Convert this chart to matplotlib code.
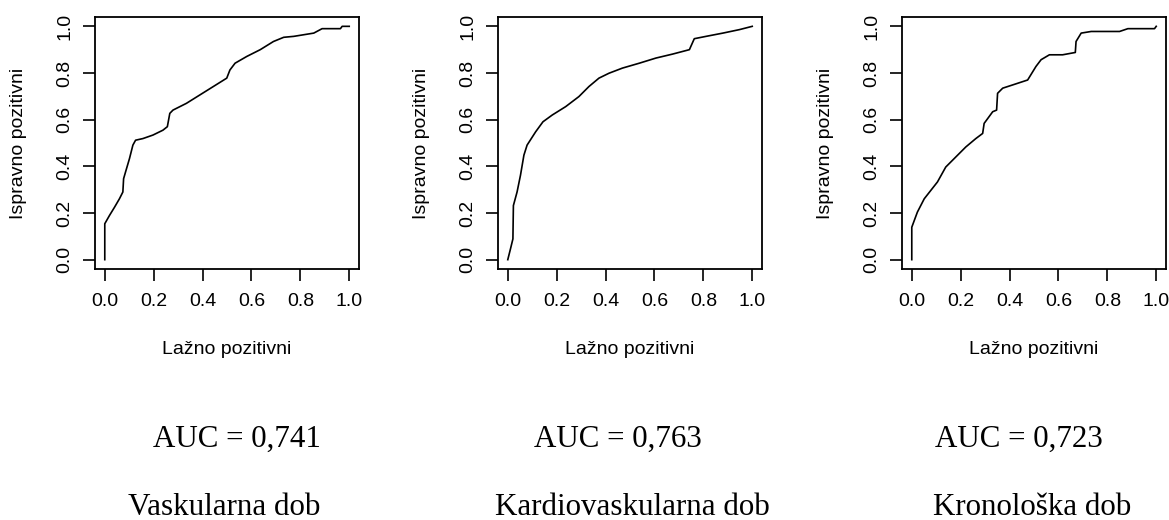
import matplotlib.pyplot as plt

# -----------------------------------
# DATA
# -----------------------------------

vask_fpr = [0.0, 0.0, 0.019, 0.040, 0.060, 0.074, 0.077, 0.085, 0.101, 0.115, 0.126,
            0.156, 0.197, 0.238, 0.256, 0.266, 0.279, 0.334, 0.389, 0.444, 0.499,
            0.512, 0.533, 0.581, 0.636, 0.690, 0.732, 0.773, 0.814, 0.855, 0.889,
            0.964, 0.971, 1.0]
vask_tpr = [0.0, 0.154, 0.189, 0.225, 0.261, 0.290, 0.347, 0.376, 0.433, 0.491, 0.512,
            0.519, 0.534, 0.555, 0.570, 0.627, 0.641, 0.670, 0.706, 0.742, 0.778,
            0.813, 0.842, 0.871, 0.900, 0.935, 0.953, 0.957, 0.964, 0.971, 0.990,
            0.990, 1.0, 1.0]

kardio_fpr = [0.0, 0.011, 0.021, 0.023, 0.038, 0.052, 0.066, 0.079, 0.114, 0.144,
              0.182, 0.237, 0.291, 0.332, 0.373, 0.414, 0.469, 0.538, 0.606, 0.674,
              0.743, 0.763, 0.811, 0.880, 0.948, 1.0]
kardio_tpr = [0.0, 0.046, 0.089, 0.232, 0.290, 0.362, 0.448, 0.491, 0.548, 0.591,
              0.620, 0.656, 0.699, 0.742, 0.778, 0.799, 0.821, 0.842, 0.864, 0.881,
              0.900, 0.947, 0.957, 0.971, 0.986, 1.0]

krono_fpr = [0.0, 0.0, 0.023, 0.051, 0.078, 0.105, 0.139, 0.180, 0.221, 0.262, 0.290,
             0.296, 0.331, 0.347, 0.351, 0.372, 0.413, 0.474, 0.508, 0.529, 0.563,
             0.617, 0.669, 0.672, 0.693, 0.734, 0.850, 0.884, 0.993, 1.0]
krono_tpr = [0.0, 0.139, 0.204, 0.261, 0.297, 0.333, 0.397, 0.440, 0.483, 0.519, 0.541,
             0.584, 0.634, 0.641, 0.713, 0.735, 0.749, 0.770, 0.828, 0.857, 0.878,
             0.878, 0.888, 0.935, 0.971, 0.978, 0.978, 0.990, 0.990, 1.0]

auc_labels = ["AUC = 0,741", "AUC = 0,763", "AUC = 0,723"]
names = ["Vaskularna dob", "Kardiovaskularna dob", "Kronološka dob"]
ticks = [0.0, 0.2, 0.4, 0.6, 0.8, 1.0]

curves = [(vask_fpr, vask_tpr), (kardio_fpr, kardio_tpr), (krono_fpr, krono_tpr)]

# -----------------------------------
# LAYOUT
# -----------------------------------

W, H = 1169, 520
fig = plt.figure(figsize=(W / 100, H / 100), dpi=100)

ax_left = [95, 498, 902]        # px from left
ax_w = 264
ax_top, ax_bottom = 17, 269
auc_x = [237, 618, 1019]
name_x = [224, 632, 1032]

sans = "Liberation Sans"
serif = "Liberation Serif"

for i in range(3):
    ax = fig.add_axes([ax_left[i] / W, 1 - ax_bottom / H,
                       ax_w / W, (ax_bottom - ax_top) / H])
    fpr, tpr = curves[i]
    ax.plot(fpr, tpr, color="black", lw=1.2)

    ax.set_xlim(-0.04, 1.04)
    ax.set_ylim(-0.04, 1.04)
    ax.set_xticks(ticks)
    ax.set_yticks(ticks)
    ax.set_xticklabels([f"{t:.1f}" for t in ticks], family=sans, fontsize=14)
    ax.set_yticklabels([f"{t:.1f}" for t in ticks], family=sans, fontsize=14,
                       rotation=90, va="center")
    ax.tick_params(axis="both", direction="out", length=8.5, width=1.2)
    ax.tick_params(axis="x", pad=9)
    ax.tick_params(axis="y", pad=7)
    for s in ax.spines.values():
        s.set_linewidth(1.3)

    ax.set_xlabel("Lažno pozitivni", family=sans, fontsize=14, va="center")
    ax.set_ylabel("Ispravno pozitivni", family=sans, fontsize=14, va="center")
    ax.xaxis.set_label_coords(0.5, -0.32)
    ax.yaxis.set_label_coords(-0.29, 0.5)

    fig.text(auc_x[i] / W, 1 - 447 / H, auc_labels[i], family=serif,
             fontsize=22.3, ha="center", va="baseline")
    fig.text(name_x[i] / W, 1 - 515 / H, names[i], family=serif,
             fontsize=22.3, ha="center", va="baseline")

plt.savefig("out.png", dpi=100)
plt.close()
